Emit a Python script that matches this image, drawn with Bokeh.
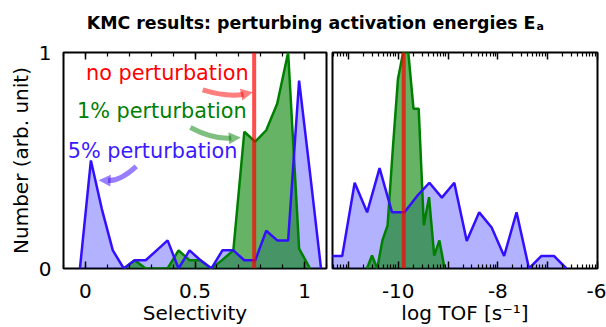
import math
from bokeh.plotting import figure
from bokeh.models import (Range1d, FixedTicker, LinearAxis, Label, Arrow, NormalHead,
                          Span, CustomJSTickFormatter)
from bokeh.layouts import column, row
from bokeh.embed import file_html
from bokeh.resources import INLINE

FONT = "DejaVu Sans"

# ---------------- data ----------------
# Left panel: selectivity histograms (normalised counts)
sel_x_5pct = [-0.025, 0.025, 0.075, 0.125, 0.175, 0.225, 0.275, 0.325, 0.375, 0.425, 0.475,
              0.525, 0.575, 0.625, 0.675, 0.725, 0.775, 0.825, 0.875, 0.925, 0.975, 1.025, 1.075]
sel_5pct = [0.0, 0.50, 0.275, 0.084, 0.0, 0.038, 0.038, 0.084, 0.13, 0.0, 0.084,
            0.038, 0.0, 0.084, 0.084, 0.038, 0.038, 0.175, 0.13, 0.13, 0.87, 0.44, 0.0]
sel_x_1pct = [0.175, 0.225, 0.275, 0.325, 0.375, 0.425, 0.475, 0.525, 0.575, 0.625,
              0.675, 0.725, 0.775, 0.825, 0.875, 0.925, 0.975, 1.025]
sel_1pct = [0.0, 0.038, 0.0, 0.0, 0.0, 0.084, 0.038, 0.038, 0.0, 0.04,
            0.084, 0.633, 0.587, 0.64, 0.763, 1.0, 0.092, 0.0]
sel_unperturbed = 0.77

# Right panel: log TOF histograms
tof_x_5pct = [-11.375, -11.125, -10.875, -10.625, -10.375, -10.125, -9.875, -9.625, -9.375, -9.125,
              -8.875, -8.625, -8.375, -8.125, -7.875, -7.625, -7.375, -7.125, -6.875, -6.625]
tof_5pct = [0.058, 0.058, 0.397, 0.26, 0.465, 0.26, 0.26, 0.335, 0.397, 0.328,
            0.397, 0.127, 0.26, 0.19, 0.058, 0.26, 0.0, 0.058, 0.058, 0.0]
tof_x_1pct = [-10.63, -10.526, -10.422, -10.318, -10.214, -10.11, -10.006, -9.902,
              -9.798, -9.694, -9.59, -9.486, -9.382, -9.278, -9.174, -9.07]
tof_1pct = [0.0, 0.06, 0.0, 0.13, 0.2, 0.55, 0.877, 1.0,
            1.0, 0.74, 0.74, 0.2, 0.33, 0.06, 0.13, 0.0]
tof_unperturbed = -9.89

sel_ticks = [0, 0.5, 1]
tof_ticks = [-11, -10, -9, -8, -7, -6]
y_ticks = [0, 1]

BLUE_LINE = "#3210ff"
BLUE_FILL = "#0000ff"
GREEN = "#008000"
RED = "#ff0000"

# ---------------- layout sizes ----------------
W1, W2, H, HT = 329, 277, 293, 34
L1, R1, L2, R2, TOP, BOT = 63, 3, 3, 9, 18, 58


def style_xaxis(ax, ticker, labels=True, label_text=None, code=None):
    ax.ticker = ticker
    ax.axis_line_color = None
    ax.major_tick_in = 7
    ax.major_tick_out = 0
    ax.minor_tick_in = 4
    ax.minor_tick_out = 0
    ax.major_tick_line_width = 1.5
    ax.minor_tick_line_width = 1.2
    ax.major_tick_line_color = "black"
    ax.minor_tick_line_color = "black"
    if labels:
        ax.formatter = CustomJSTickFormatter(code=code or "return String(tick)")
        ax.major_label_text_font = FONT
        ax.major_label_text_font_size = "20px"
        ax.major_label_text_color = "black"
        ax.major_label_standoff = 15
        if label_text:
            ax.axis_label = label_text
            ax.axis_label_text_font = FONT
            ax.axis_label_text_font_size = "20px"
            ax.axis_label_text_font_style = "normal"
            ax.axis_label_text_color = "black"
            ax.axis_label_standoff = 0
    else:
        ax.major_label_text_font_size = "0px"
        ax.major_label_text_color = None
        ax.major_label_standoff = 0


def base_fig(width, xr, lb, rb, yloc):
    p = figure(width=width, height=H, x_range=xr, y_range=Range1d(0, 1),
               toolbar_location=None, output_backend="svg", y_axis_location=yloc,
               min_border_left=lb, min_border_right=rb, min_border_top=TOP,
               min_border_bottom=BOT, background_fill_color="white",
               border_fill_color="white")
    p.grid.visible = False
    p.outline_line_color = "black"
    p.outline_line_width = 2
    return p


# ---------------- left panel ----------------
p1 = base_fig(W1, Range1d(-0.1, 1.1), L1, R1, "left")
sel_ticker = FixedTicker(ticks=sel_ticks, minor_ticks=[round(-0.1 + 0.1 * i, 2) for i in range(13)])
style_xaxis(p1.xaxis[0], sel_ticker, True, "Selectivity")
p1.add_layout(LinearAxis(), "above")
style_xaxis(p1.above[0], sel_ticker, False)

ya = p1.yaxis[0]
ya.ticker = FixedTicker(ticks=y_ticks)
ya.formatter = CustomJSTickFormatter(code="return String(tick)")
ya.axis_line_color = None
ya.major_tick_in = 0
ya.major_tick_out = 0
ya.minor_tick_line_color = None
ya.major_label_text_font = FONT
ya.major_label_text_font_size = "20px"
ya.major_label_text_color = "black"
ya.major_label_standoff = 12
ya.axis_label = "Number (arb. unit)"
ya.axis_label_text_font = FONT
ya.axis_label_text_font_size = "20px"
ya.axis_label_text_font_style = "normal"
ya.axis_label_text_color = "black"
ya.axis_label_standoff = 3

p1.varea(x=sel_x_5pct, y1=0, y2=sel_5pct, fill_color=BLUE_FILL, fill_alpha=0.3)
p1.varea(x=sel_x_1pct, y1=0, y2=sel_1pct, fill_color=GREEN, fill_alpha=0.6)
p1.line(x=sel_x_1pct, y=sel_1pct, line_color=GREEN, line_width=2.5)
p1.line(x=sel_x_5pct, y=sel_5pct, line_color=BLUE_LINE, line_width=2.5)
p1.add_layout(Span(location=sel_unperturbed, dimension="height", line_color=RED,
                   line_alpha=0.7, line_width=4))

# annotation texts
for txt, x, y, c in [("no perturbation", 0.745, 0.903, RED),
                     ("1% perturbation", 0.736, 0.728, GREEN),
                     ("5% perturbation", 0.694, 0.545, "#3a1aff")]:
    p1.add_layout(Label(x=x, y=y, text=txt, text_align="right", text_baseline="middle",
                        text_font=FONT, text_font_size="20.8px", text_color=c))

# curved arrows: (start, control, tip)
sx = (W1 - L1 - R1) / 1.2
sy = (H - TOP - BOT) / 1.0
head = 12
for (x0, y0), (cx, cy), (xt, yt), c in [((0.535, 0.827), (0.65, 0.792), (0.764, 0.816), RED),
                                        ((0.479, 0.653), (0.58, 0.598), (0.709, 0.607), GREEN),
                                        ((0.232, 0.473), (0.16, 0.405), (0.06, 0.409), "#3300ff")]:
    dx, dy = (xt - cx) * sx, (yt - cy) * sy
    n = math.hypot(dx, dy)
    xb, yb = xt - head * 0.8 * dx / n / sx, yt - head * 0.8 * dy / n / sy
    p1.quadratic(x0=[x0], y0=[y0], x1=[xb], y1=[yb], cx=[cx], cy=[cy],
                 line_color=c, line_alpha=0.5, line_width=5)
    p1.add_layout(Arrow(end=NormalHead(size=head, fill_color=c, fill_alpha=0.5,
                                       line_color=c, line_alpha=0),
                        x_start=xb, y_start=yb, x_end=xt, y_end=yt,
                        line_alpha=0, line_width=1))

# ---------------- right panel ----------------
p2 = base_fig(W2, Range1d(-11.32, -6), L2, R2, None)
minor_log = [d + math.log10(k) for d in range(-12, -6) for k in range(2, 10)]
tof_ticker = FixedTicker(ticks=tof_ticks, minor_ticks=minor_log)
style_xaxis(p2.xaxis[0], tof_ticker, True, "log TOF [s\u207b\u00b9]",
            code="return (Math.round(tick) % 2 === 0) ? String(tick) : ''")
p2.add_layout(LinearAxis(), "above")
style_xaxis(p2.above[0], tof_ticker, False)

p2.varea(x=tof_x_5pct, y1=0, y2=tof_5pct, fill_color=BLUE_FILL, fill_alpha=0.3)
p2.varea(x=tof_x_1pct, y1=0, y2=tof_1pct, fill_color=GREEN, fill_alpha=0.6)
p2.line(x=tof_x_1pct, y=tof_1pct, line_color=GREEN, line_width=2.5)
p2.line(x=tof_x_5pct, y=tof_5pct, line_color=BLUE_LINE, line_width=2.5)
p2.add_layout(Span(location=tof_unperturbed, dimension="height", line_color=RED,
                   line_alpha=0.7, line_width=4))

# ---------------- title ----------------
p0 = figure(width=W1 + W2, height=HT, x_range=Range1d(0, W1 + W2), y_range=Range1d(0, HT),
            toolbar_location=None, output_backend="svg", x_axis_location=None,
            y_axis_location=None, min_border=0, outline_line_color=None, title=None)
p0.grid.visible = False
p0.add_layout(Label(x=535, y=HT - 22, text="KMC results: perturbing activation energies E",
                    text_align="right", text_baseline="alphabetic", text_font=FONT,
                    text_font_size="17.4px", text_font_style="bold", text_color="black"))
p0.add_layout(Label(x=536, y=HT - 26, text="a", text_align="left", text_baseline="alphabetic",
                    text_font=FONT, text_font_size="11px", text_font_style="bold",
                    text_color="black"))

layout = column(p0, row(p1, p2, spacing=0), spacing=0)
open("out.html", "w").write(file_html(layout, INLINE))
